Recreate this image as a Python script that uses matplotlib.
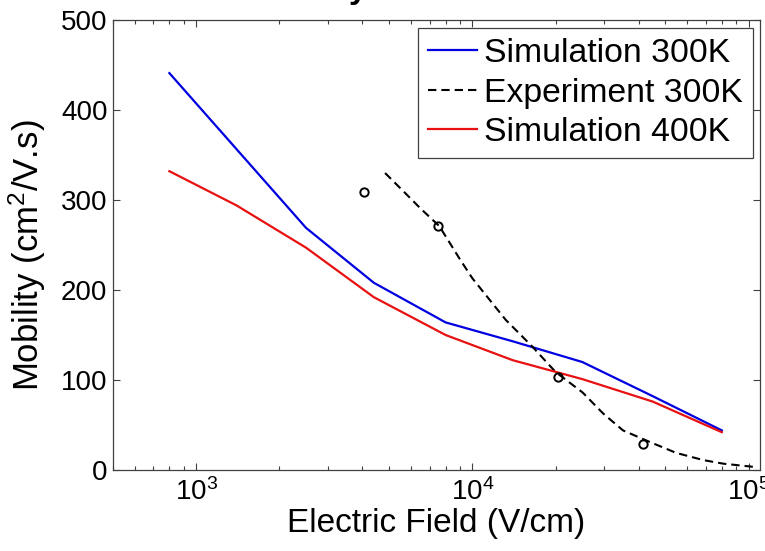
import matplotlib
matplotlib.use("Agg")
import matplotlib.pyplot as plt

plt.rcParams['font.family'] = ['Liberation Sans', 'DejaVu Sans']
plt.rcParams['mathtext.fontset'] = 'custom'
plt.rcParams['mathtext.rm'] = 'Liberation Sans'
plt.rcParams['mathtext.it'] = 'Liberation Sans:italic'

# Simulation 300K
field_sim300 = [800, 2500, 4400, 8000, 14000, 25000, 45000, 80000]
mob_sim300 = [441, 269, 208, 164, 143, 120, 82, 44]

# Simulation 400K
field_sim400 = [800, 1400, 2500, 4400, 8000, 14000, 25000, 45000, 80000]
mob_sim400 = [332, 294, 247, 192, 150, 122, 101, 76, 42]

# Experiment 300K (dashed curve)
field_exp = [4830, 5700, 6470, 7590, 8980, 10000, 13190, 16500, 20000,
             25100, 29700, 35100, 44000, 54700, 68600, 81100, 108000]
mob_exp = [330, 308, 291, 271, 235, 213, 167, 137, 109,
           86, 63, 44, 31, 19, 11, 7, 3]

# Experiment points (circles)
field_pts = [4040, 7520, 20400, 41500]
mob_pts = [309, 271, 103, 29]

fig = plt.figure(figsize=(7.65, 5.51), dpi=100)
ax = fig.add_axes([113/765, 1 - 470/551, (760-113)/765, (470-20)/551])

ax.plot(field_sim300, mob_sim300, color='#0000e0', lw=1.6, label='Simulation 300K')
ax.plot(field_exp, mob_exp, color='black', lw=1.5, dashes=(4, 2.4), label='Experiment 300K')
ax.plot(field_sim400, mob_sim400, color='#e81010', lw=1.6, label='Simulation 400K')
ax.plot(field_pts, mob_pts, 'o', mfc='none', mec='black', ms=6, mew=1.4)

ax.set_xscale('log')
ax.set_xlim(500, 1.1e5)
ax.set_ylim(0, 500)
ax.set_yticks([0, 100, 200, 300, 400, 500])

for s in ax.spines.values():
    s.set_color('#404040')
    s.set_linewidth(0.9)
ax.tick_params(which='both', direction='in', top=True, right=True,
               colors='#404040', labelcolor='black', labelsize=20)
ax.tick_params(which='major', length=5, width=0.8)
ax.tick_params(which='minor', length=3, width=0.8)
ax.tick_params(axis='x', pad=6)
ax.tick_params(axis='y', pad=4)

ax.set_xlabel('Electric Field (V/cm)', fontsize=24, labelpad=1)
ax.set_ylabel('Mobility (cm$^{2}$/V.s)', fontsize=25)
ax.yaxis.set_label_coords(-0.1, 0.478)
ax.set_title('Mobility vs Electric Field', fontsize=24, fontweight='bold', pad=16)

leg = ax.legend(loc='upper right', bbox_to_anchor=(753/765, 1 - 28/551),
                bbox_transform=fig.transFigure, borderaxespad=0,
                fontsize=24.3, fancybox=False, framealpha=1,
                edgecolor='#404040', handlelength=1.45, handletextpad=0.2,
                labelspacing=0.25, borderpad=0.3)
leg.get_frame().set_linewidth(0.9)

fig.savefig('out.png', dpi=100)
